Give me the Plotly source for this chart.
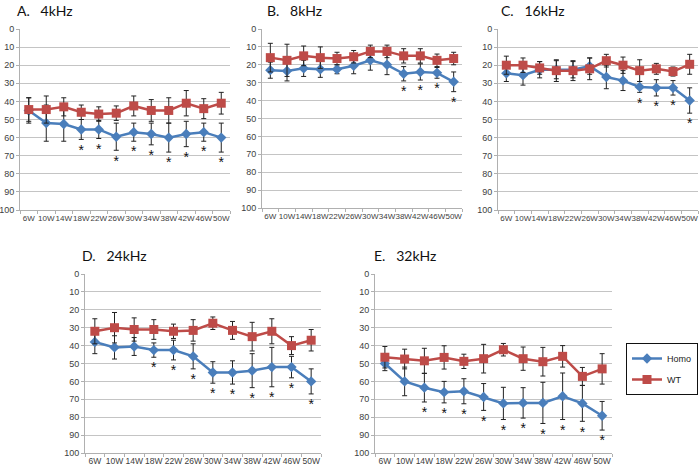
import plotly.graph_objects as go

weeks = ["6W", "10W", "14W", "18W", "22W", "26W", "30W", "34W", "38W", "42W", "46W", "50W"]
y_ticks = [0, 10, 20, 30, 40, 50, 60, 70, 80, 90, 100]

titles = ["A.   4kHz", "B.   8kHz", "C.   16kHz", "D.   24kHz", "E.   32kHz"]

homo_4k = [45, 52, 52.5, 55.5, 55.5, 59.5, 57, 58, 60, 58, 57, 60]
homo_4k_err = [7, 10, 9.5, 5.5, 5, 7.5, 5, 6, 8, 7, 5, 8]
wt_4k = [44.5, 44.5, 43, 46, 47, 46.5, 42.5, 45, 45, 41, 44, 41]
wt_4k_err = [6.5, 7.5, 5, 4, 4, 4, 5.5, 6, 7, 7, 5.5, 6]
sig_4k = [0, 0, 0, 1, 1, 1, 1, 1, 1, 1, 1, 1]

homo_8k = [23, 23.5, 22, 22.5, 22.5, 20.5, 17.5, 20, 25, 24, 24.5, 29.5]
homo_8k_err = [4.5, 5.5, 4.5, 4.5, 2.5, 4.5, 5.5, 5.5, 4, 4.5, 3, 5.5]
wt_8k = [16, 17.5, 15, 16, 16.5, 15.5, 12.5, 12.5, 15, 15, 17.5, 16.5]
wt_8k_err = [8, 9, 5.5, 6, 3.5, 3.5, 3.5, 3.5, 4, 4, 3.5, 3.5]
sig_8k = [0, 0, 0, 0, 0, 0, 0, 0, 1, 1, 1, 1]

homo_16k = [24.5, 25.5, 22.5, 22.5, 22.5, 20.5, 26.5, 28.5, 32, 32.5, 32.5, 39.5]
homo_16k_err = [4.5, 5.5, 4.5, 5, 4.5, 4.5, 6.5, 5.5, 3, 4.5, 4, 7]
wt_16k = [20, 20, 21.5, 23, 23, 22, 17.5, 20, 23, 22, 23.5, 19.5]
wt_16k_err = [5, 4, 3.5, 6, 5.5, 6, 3.5, 4.5, 6, 3, 2.5, 5.5]
sig_16k = [0, 0, 0, 0, 0, 0, 0, 0, 1, 1, 1, 1]

homo_24k = [38, 41, 40.5, 42.5, 42.5, 46, 55, 55, 54, 52, 52, 60]
homo_24k_err = [6.5, 6.5, 5, 4, 5.5, 7, 6, 6.5, 9.5, 11, 6, 7]
wt_24k = [32, 30, 31, 31, 32, 31.5, 27.5, 31.5, 35, 32, 40, 37]
wt_24k_err = [7, 8.5, 6.5, 5.5, 4, 6, 3.5, 5, 8, 7, 5, 6]
sig_24k = [0, 0, 0, 1, 1, 1, 1, 1, 1, 1, 1, 1]

homo_32k = [50, 60, 63.5, 66, 65.5, 68.7, 72.3, 72, 72, 68.3, 72.3, 79.2]
homo_32k_err = [4, 8, 8, 6, 7, 7.5, 9, 8.5, 11.5, 13, 10, 8]
wt_32k = [46.5, 47.5, 48.5, 46.6, 48.8, 47.3, 42.3, 47.3, 49, 46, 57.2, 53]
wt_32k_err = [6, 5.5, 7, 6.5, 4, 8, 3.5, 6.5, 8, 6, 5, 8.5]
sig_32k = [0, 0, 1, 1, 1, 1, 1, 1, 1, 1, 1, 1]

panels = [
    (homo_4k, homo_4k_err, wt_4k, wt_4k_err, sig_4k),
    (homo_8k, homo_8k_err, wt_8k, wt_8k_err, sig_8k),
    (homo_16k, homo_16k_err, wt_16k, wt_16k_err, sig_16k),
    (homo_24k, homo_24k_err, wt_24k, wt_24k_err, sig_24k),
    (homo_32k, homo_32k_err, wt_32k, wt_32k_err, sig_32k),
]

W, H = 700, 467
# pixel boxes (left, right, top, bottom)
boxes = [(20, 230, 29, 210), (262, 462, 29, 208), (498, 698, 29, 210),
         (85, 321, 274, 453), (375, 612, 274, 453)]
title_pos = [(15, 10), (265, 10), (499, 10), (80, 255), (372, 255)]
xtick_sizes = [8, 8, 8, 8.5, 8.5]

BLUE = "#4a7ebb"
RED = "#be4b48"
TICKFONT = "Liberation Sans Narrow, Arial Narrow, Liberation Sans, sans-serif"

fig = go.Figure()
layout = dict(width=W, height=H, margin=dict(l=0, r=0, t=0, b=0),
              paper_bgcolor="white", plot_bgcolor="white",
              font=dict(family="Lato, Liberation Sans, sans-serif", size=9, color="#404040"),
              showlegend=True)
annotations = []
for i, (homo, herr, wt, werr, sig) in enumerate(panels):
    n = i + 1
    xa = "x" if n == 1 else f"x{n}"
    ya = "y" if n == 1 else f"y{n}"
    fig.add_trace(go.Scatter(
        x=weeks, y=homo, name="Homo", xaxis=xa, yaxis=ya, mode="lines+markers",
        line=dict(color=BLUE, width=2.5), marker=dict(symbol="diamond", size=8, color=BLUE),
        error_y=dict(type="data", array=herr, color="#222222", thickness=1, width=2.5),
        showlegend=(i == 0), legendgroup="homo"))
    fig.add_trace(go.Scatter(
        x=weeks, y=wt, name="WT", xaxis=xa, yaxis=ya, mode="lines+markers",
        line=dict(color=RED, width=2.5), marker=dict(symbol="square", size=9, color=RED),
        error_y=dict(type="data", array=werr, color="#222222", thickness=1, width=2.5),
        showlegend=(i == 0), legendgroup="wt"))
    sx = [w for w, s in zip(weeks, sig) if s]
    sy = [h + e for h, e, s in zip(homo, herr, sig) if s]
    fig.add_trace(go.Scatter(
        x=sx, y=sy, xaxis=xa, yaxis=ya, mode="markers+text", text=["*"] * len(sx),
        marker=dict(size=6, opacity=0),
        textposition="bottom center",
        textfont=dict(size=14, color="#111111", family="Liberation Sans, sans-serif"),
        showlegend=False, hoverinfo="skip"))
    l, r, t, b = boxes[i]
    key_x = "xaxis" if n == 1 else f"xaxis{n}"
    key_y = "yaxis" if n == 1 else f"yaxis{n}"
    layout[key_x] = dict(domain=[l / W, r / W], anchor=ya, type="category",
                         range=[-0.5, 11.5], showgrid=False, showline=True,
                         linecolor="#b0b0b0", linewidth=1, ticks="outside",
                         tickson="boundaries", ticklen=3, tickcolor="#b0b0b0",
                         automargin=False,
                         tickfont=dict(size=xtick_sizes[i], color="#404040", family=TICKFONT),
                         tickangle=0)
    layout[key_y] = dict(domain=[1 - b / H, 1 - t / H], anchor=xa, range=[100, 0],
                         tickvals=y_ticks, showgrid=True, gridcolor="#c4c4c4",
                         gridwidth=1, showline=True, linecolor="#b0b0b0", linewidth=1,
                         ticks="outside", ticklen=3, tickcolor="#b0b0b0",
                         automargin=False, zeroline=False,
                         tickfont=dict(size=9, color="#404040", family=TICKFONT))
    tx, ty = title_pos[i]
    annotations.append(dict(x=tx / W, y=1 - ty / H, xref="paper", yref="paper",
                            text=titles[i], showarrow=False, xanchor="left",
                            yanchor="middle",
                            font=dict(size=14, color="#111111",
                                      family="Lato, Liberation Sans, sans-serif")))

layout["annotations"] = annotations
layout["legend"] = dict(x=698 / W, y=1 - 343 / H, xanchor="right", yanchor="top",
                        bgcolor="white", bordercolor="#111111", borderwidth=1,
                        font=dict(size=9, color="#222222",
                                  family="Liberation Sans, sans-serif"),
                        itemwidth=30, tracegroupgap=2)
fig.update_layout(**layout)
fig.write_html("out.html", config={"displayModeBar": False},
               post_script="document.body.style.margin='0';document.body.style.overflow='hidden';")
